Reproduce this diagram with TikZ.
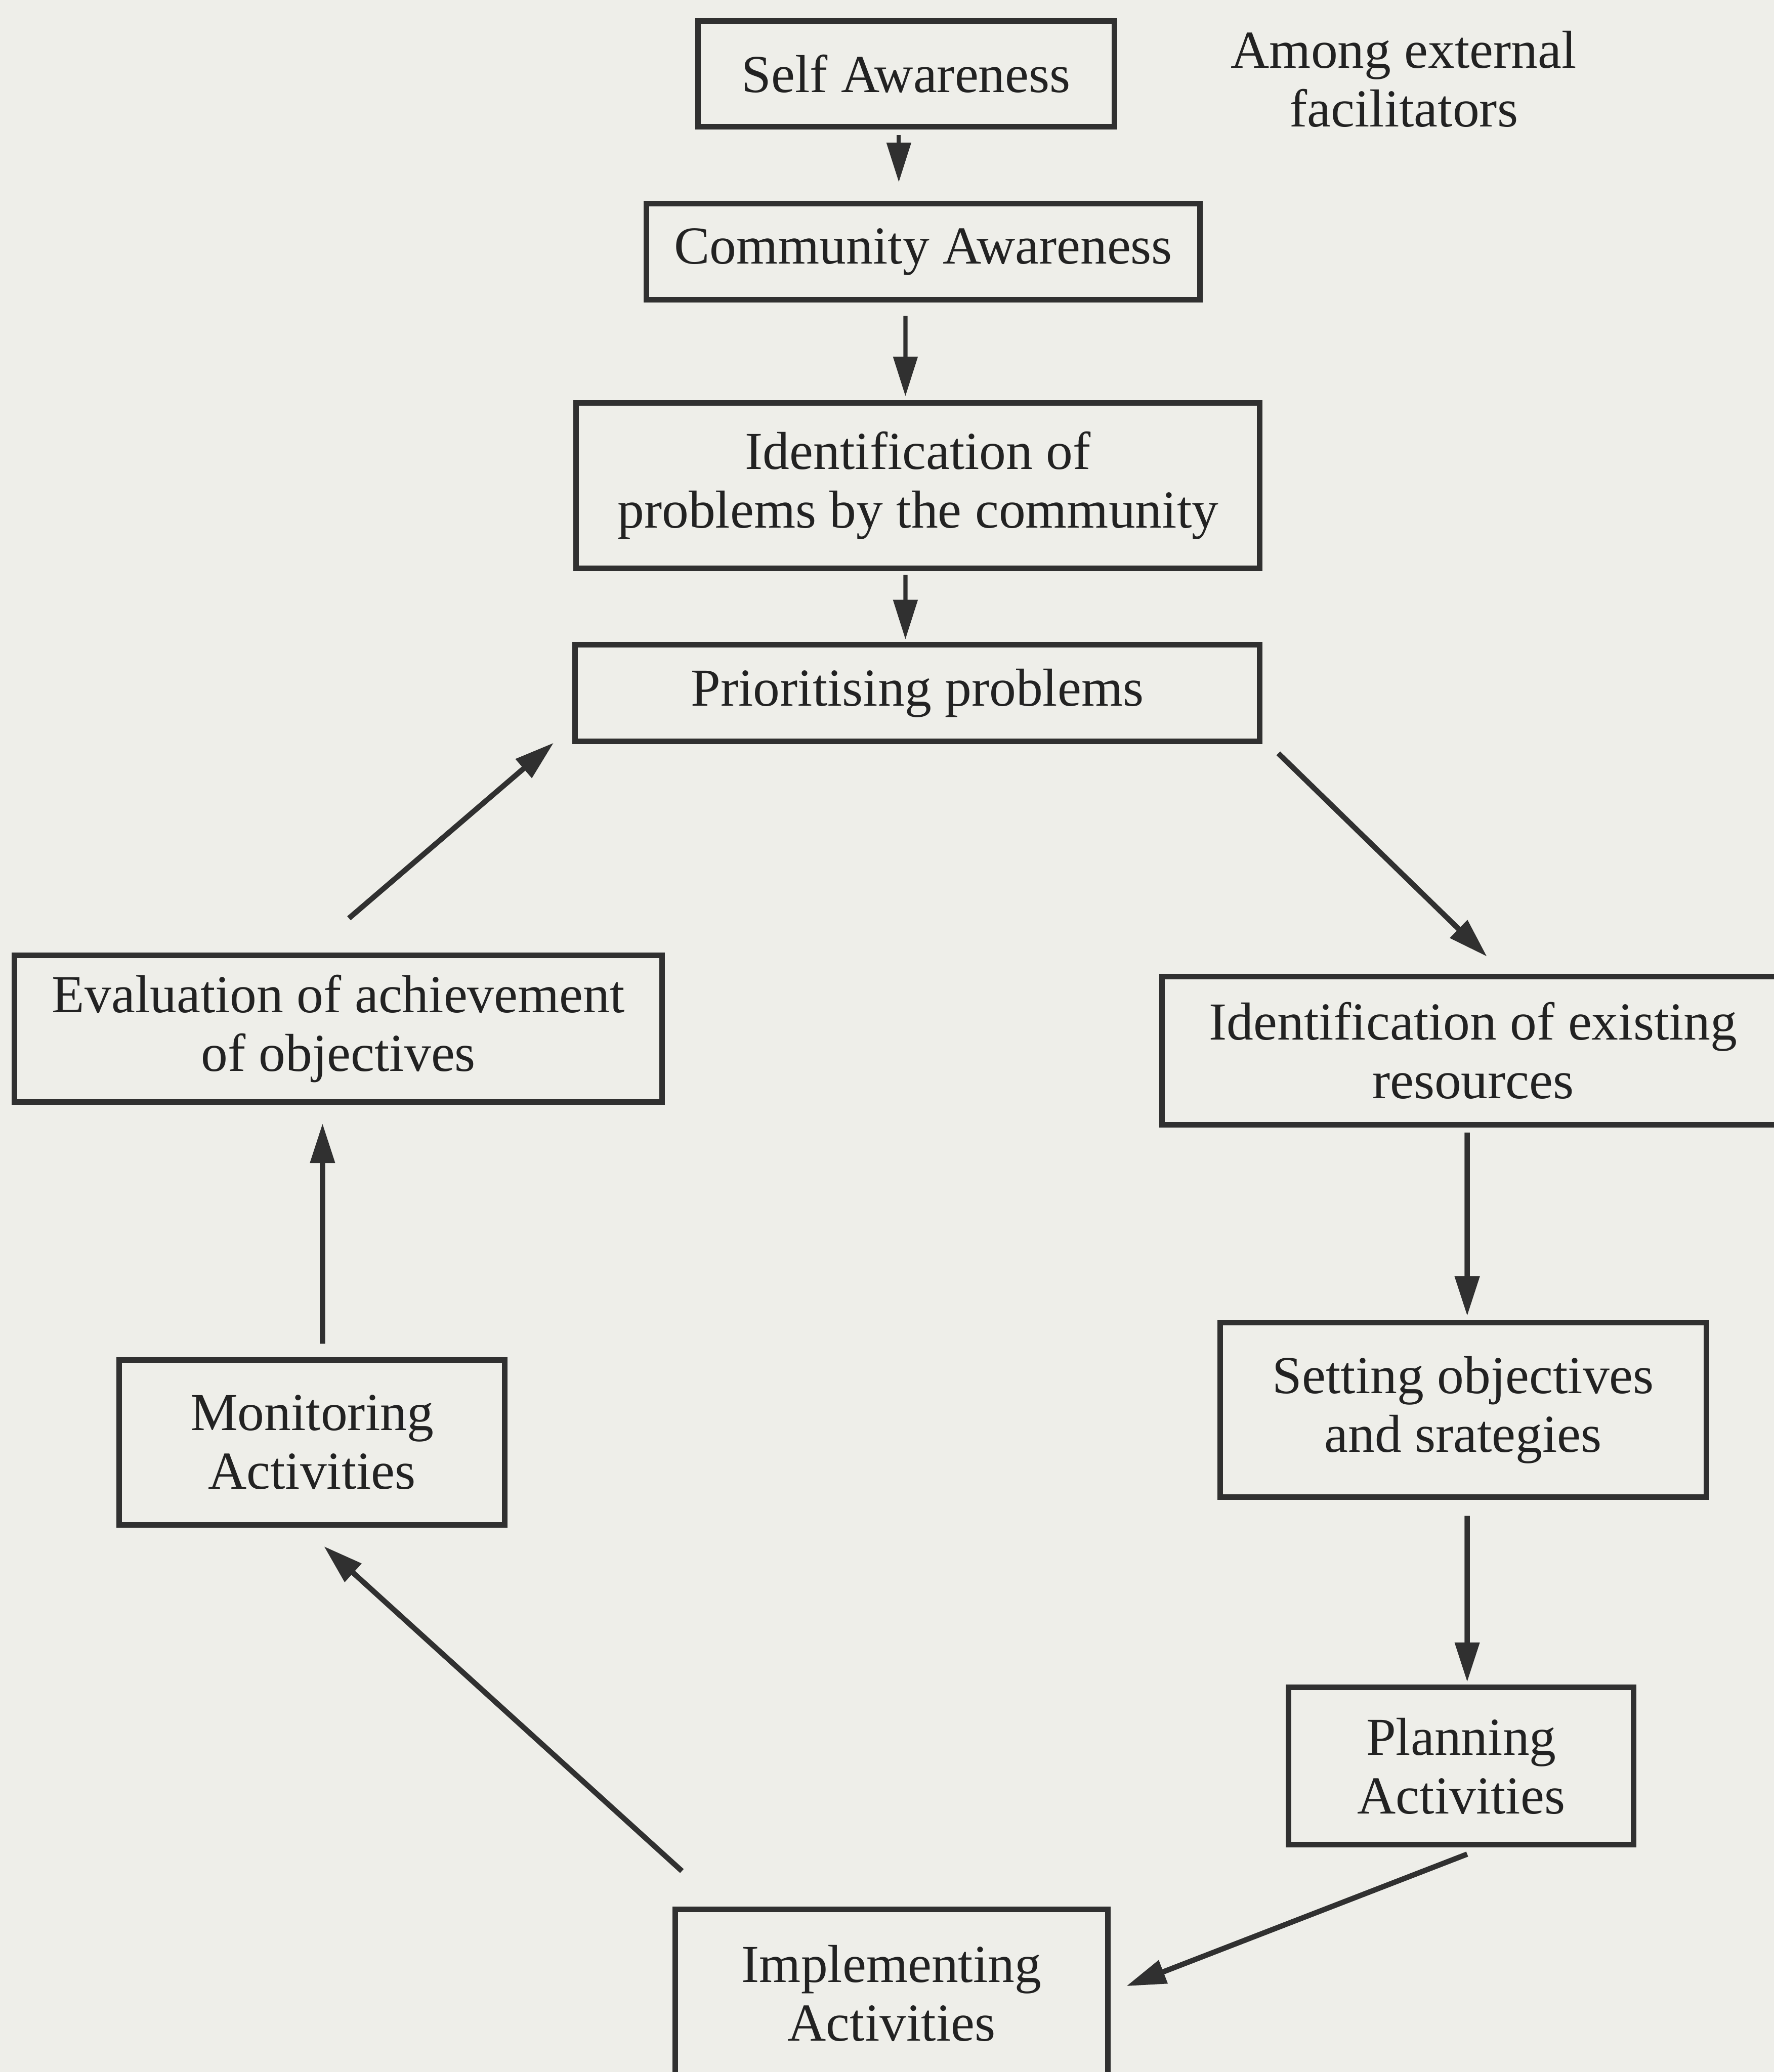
\documentclass[tikz,border=0pt]{standalone}
\usepackage{fontspec}
\setmainfont{Liberation Serif}
\usetikzlibrary{arrows.meta}
\definecolor{papier}{HTML}{EEEEE9}
\definecolor{linie}{HTML}{303030}
\definecolor{schrift}{HTML}{222222}

\begin{document}
\begin{tikzpicture}[
	kasten/.style={draw=linie, line width=1.2pt, align=center, inner sep=0pt, text=schrift, font=\fontsize{11.5}{12.6}\selectfont},
	pfeil/.style={draw=linie, line width=1.15pt, -{Triangle[length=3mm, width=1.8mm]}},
	duenn/.style={line width=0.9pt}
	]
	
	% hintergrund
	\fill[papier] (0,0) rectangle (13.42,-15.68);
	\useasboundingbox (0,0) rectangle (13.42,-15.68);
	
	% kaesten oben
	\node[kasten, minimum width=3.15cm, minimum height=0.80cm] (self) at (6.855,-0.56) {Self Awareness};
	\node[kasten, minimum width=4.19cm, minimum height=0.73cm] (comm) at (6.985,-1.905) {Community Awareness};
	\node[kasten, minimum width=5.17cm, minimum height=1.25cm] (ident) at (6.945,-3.675) {Identification of\\problems by the community};
	\node[kasten, minimum width=5.18cm, minimum height=0.73cm] (prio) at (6.94,-5.245) {Prioritising problems};
	%Beschriftung
	\node[kasten, draw=none] (extern) at (10.62,-0.60) {Among external\\facilitators};
	
	% rechte seite
	\node[kasten, minimum width=4.71cm, minimum height=1.12cm] (res) at (11.145,-7.95) {Identification of existing\\resources};
	\node[kasten, minimum width=3.68cm, minimum height=1.32cm] (setting) at (11.07,-10.67) {Setting objectives\\and srategies};
	\node[kasten, minimum width=2.61cm, minimum height=1.19cm] (plan) at (11.055,-13.365) {Planning\\Activities};
	
	% unten und links
	\node[kasten, minimum width=3.27cm, minimum height=1.27cm] (impl) at (6.745,-15.085) {Implementing\\Activities};
	\node[kasten, minimum width=2.92cm, minimum height=1.25cm] (mon) at (2.36,-10.915) {Monitoring\\Activities};
	\node[kasten, minimum width=4.90cm, minimum height=1.11cm] (eval) at (2.56,-7.785) {Evaluation of achievement\\of objectives};
	
	% pfeile
	\draw[pfeil, duenn] ([xshift=-0.55mm, yshift=-0.4mm]self.south) -- ([xshift=-1.85mm, yshift=1.4mm]comm.north);
	\draw[pfeil, duenn] ([xshift=-1.35mm, yshift=-1mm]comm.south) -- ([xshift=-0.95mm, yshift=0.3mm]ident.north);
	\draw[pfeil, duenn] ([xshift=-0.95mm, yshift=-0.3mm]ident.south) -- ([xshift=-0.9mm, yshift=0.2mm]prio.north);
	\draw[pfeil] ([xshift=1.2mm, yshift=-0.7mm]prio.south east) -- ([xshift=1.05mm, yshift=1.3mm]res.north);
	\draw[pfeil] ([xshift=-0.45mm, yshift=-0.4mm]res.south) -- ([xshift=0.3mm, yshift=0.3mm]setting.north);
	\draw[pfeil] ([xshift=0.3mm, yshift=-1.2mm]setting.south) -- ([xshift=0.45mm, yshift=0.2mm]plan.north);
	\draw[pfeil] ([xshift=0.45mm, yshift=-0.5mm]plan.south) -- ([xshift=1.2mm, yshift=0.55mm]impl.east);
	\draw[pfeil] ([xshift=0.7mm, yshift=2.7mm]impl.north west) -- ([xshift=0.9mm, yshift=-1.4mm]mon.south);
	\draw[pfeil] ([xshift=0.8mm, yshift=1mm]mon.north) -- ([xshift=-1.2mm, yshift=-1.4mm]eval.south);
	\draw[pfeil] ([xshift=0.8mm, yshift=2.6mm]eval.north) -- ([xshift=-1.4mm, yshift=0.1mm]prio.south west);
	
\end{tikzpicture}
\end{document}
